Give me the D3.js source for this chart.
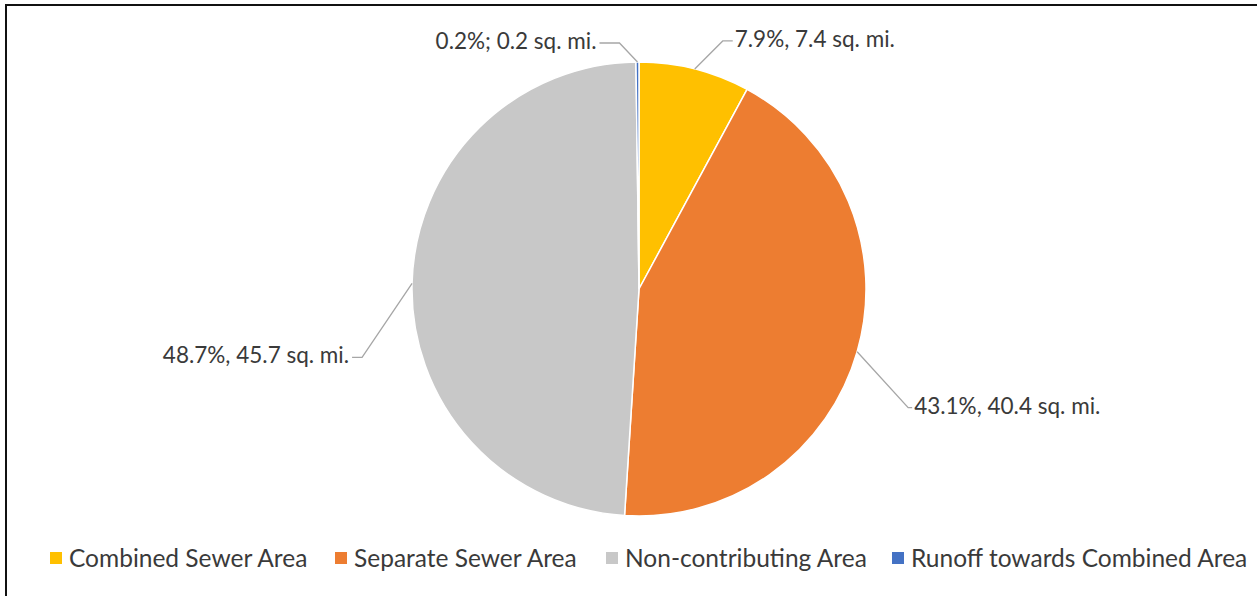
<!DOCTYPE html>
<html><head><meta charset="utf-8">
<script src="https://cdn.jsdelivr.net/npm/d3@7"></script>
<style>
html,body{margin:0;padding:0;background:#fff;}
svg{display:block;}
text{font-family:"Lato","Open Sans",sans-serif;}
</style></head>
<body>
<svg id="chart" width="1257" height="596"></svg>
<script>
// Data
const categories = ["Combined Sewer Area", "Separate Sewer Area", "Non-contributing Area", "Runoff towards Combined Area"];
const areas = [7.4, 40.4, 45.7, 0.2];           // sq. mi.
const percents = [7.9, 43.1, 48.7, 0.2];        // %
const labelTexts = ["7.9%, 7.4 sq. mi.", "43.1%, 40.4 sq. mi.", "48.7%, 45.7 sq. mi.", "0.2%; 0.2 sq. mi."];
const colors = ["#FFC000", "#ED7D31", "#C8C8C8", "#4472C4"];

// Layout (label elbow offsets relative to arc point, and horizontal tail)
const labelLayout = [
  {dx: 28, dy: -28, tail: 10, anchor: "start"},
  {dx: 51, dy: 56, tail: 4, anchor: "start"},
  {dx: -50, dy: 74, tail: -10, anchor: "end"},
  {dx: -18, dy: -19, tail: -20, anchor: "end"}
];

const svg = d3.select("#chart");
const W = 1257, H = 596;

// frame
svg.append("path").attr("d", `M6,${H} L6,5 L${W},5`).attr("fill","none").attr("stroke","#111").attr("stroke-width",2);

const cx = 639, cy = 289, R = 227;
const g = svg.append("g").attr("transform", `translate(${cx},${cy})`);

const pie = d3.pie().value(d => d).sort(null);
const arcs = pie(areas);
const arcGen = d3.arc().innerRadius(0).outerRadius(R);

g.selectAll("path.slice").data(arcs).join("path")
  .attr("class","slice")
  .attr("d", arcGen)
  .attr("fill", (d,i) => colors[i])
  .attr("stroke", "#fff")
  .attr("stroke-width", 1.5)
  .attr("stroke-linejoin","round");

// labels with leader lines
arcs.forEach((d,i) => {
  const a = (d.startAngle + d.endAngle)/2;
  const px = R*Math.sin(a), py = -R*Math.cos(a);
  const L = labelLayout[i];
  const ex = px + L.dx, ey = py + L.dy;
  const tx = ex + L.tail;
  g.append("polyline")
    .attr("points", `${px},${py} ${ex},${ey} ${tx},${ey}`)
    .attr("fill","none").attr("stroke","#A6A6A6").attr("stroke-width",1.3);
  g.append("text")
    .attr("x", tx + (L.anchor === "start" ? 2 : -3))
    .attr("y", ey - 2)
    .attr("dy","0.35em")
    .attr("text-anchor", L.anchor)
    .attr("font-size", 22.5)
    .attr("fill", "#3a3a3a")
    .text(labelTexts[i]);
});

// legend
const legendX = [50, 335, 606, 892];
const legY = 558;
const leg = svg.append("g");
categories.forEach((c,i) => {
  leg.append("rect").attr("x", legendX[i]).attr("y", legY-6).attr("width",12).attr("height",12).attr("fill", colors[i]);
  leg.append("text").attr("x", legendX[i]+19).attr("y", legY).attr("dy","0.35em")
    .attr("font-size", 24.5).attr("fill","#3a3a3a").text(c);
});
</script>
</body></html>
